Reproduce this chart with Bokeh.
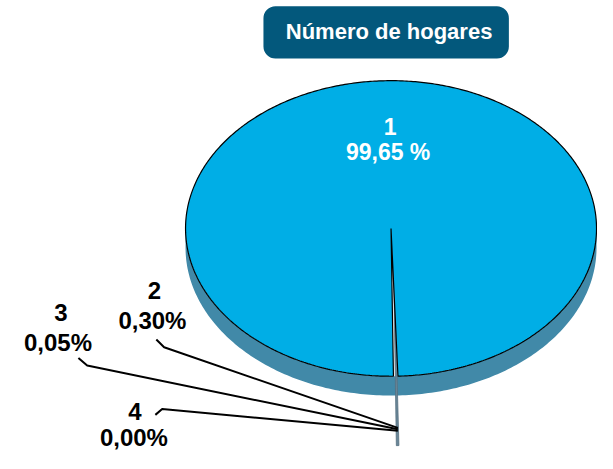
import numpy as np
from bokeh.plotting import figure
from bokeh.models import Range1d, ColumnDataSource
from bokeh.core.properties import value
from bokeh.embed import file_html
from bokeh.resources import INLINE

# ---- data ----
title_text = "Número de hogares"
categories = ["1", "2", "3", "4"]
shares = [99.65, 0.30, 0.05, 0.00]
share_labels = ["99,65 %", "0,30%", "0,05%", "0,00%"]

# ---- layout / style ----
W, H = 597, 453
p = figure(width=W, height=H, output_backend="svg", toolbar_location=None,
           x_range=Range1d(0, 613), y_range=Range1d(469, 0),
           x_axis_type=None, y_axis_type=None, min_border=0)
p.outline_line_color = None
p.grid.visible = False
p.background_fill_color = "white"
p.border_fill_color = "white"

FONT = value("Liberation Sans")
TOP = "#00AEE6"
SIDE = "#4189A8"
SLIVER = "#6A8798"
BOX = "#03587C"

cx, cy, rx, ry, depth = 401, 236, 211, 153, 20

def ell(t_deg, dy=0.0, sy=1.0):
    t = np.radians(t_deg)
    return cx + rx * np.cos(t), cy + dy + sy * ry * np.sin(t)

# angles: small slices grouped at the bottom (screen y downward, t=90 is bottom)
fr = np.array(shares) / sum(shares)
small = fr[1:].sum() * 360.0
mid = 88.7
a_start = mid + small / 2
a_end = mid - small / 2 + 360

# side band of the main slice
t1 = np.linspace(0, 180, 200)
xb, yb = ell(t1, dy=depth)
xt, yt = ell(t1[::-1])
p.patch(list(xb) + list(xt), list(yb) + list(yt), fill_color=SIDE, line_color=None)

# exploded thin sliver (slices 2-4)
ex = 1.47
sx = [cx + 2, ell(a_start, sy=ex)[0] + 3, ell(a_end - 360, sy=ex)[0] + 1]
sy_ = [cy, ell(a_start, sy=ex)[1], ell(a_end - 360, sy=ex)[1]]
p.patch(sx, sy_, fill_color=SLIVER, line_color="#557080", line_width=0.8)

# top face of main slice
tt = np.linspace(a_start, a_end, 600)
mx, my = ell(tt)
p.patch([cx] + list(mx) + [cx], [cy] + list(my) + [cy],
        fill_color=TOP, line_color="black", line_width=1.2)

# title box
p.quad(left=[270], right=[522], top=[6], bottom=[60], fill_color=BOX,
       line_color=None, border_radius=12)
p.text(x=[399], y=[32], text=[title_text], text_color="white",
       text_font=FONT, text_font_style="bold",
       text_font_size="22px", text_align="center", text_baseline="middle")

# label of slice 1
p.text(x=[400, 398], y=[130, 157], text=[categories[0], share_labels[0]],
       text_color="white", text_font=FONT,
       text_font_style="bold", text_font_size="23px",
       text_align="center", text_baseline="middle")

# leader lines for slices 2-4
conv = (408, 444)
leaders = {
    1: [(160, 351), (168, 359)],
    2: [(80, 370), (89, 378)],
    3: [(159, 429), (166, 423)],
}
for k, pts in leaders.items():
    xs = [pt[0] for pt in pts] + [conv[0]]
    ys = [pt[1] for pt in pts] + [conv[1] + (k - 2) * 1.5]
    p.line(xs, ys, line_color="black", line_width=2)

lab_x = [158, 62, 138]
num_y = [300, 323, 426]
pct_x = [156, 59, 137]
pct_y = [331, 354, 452]
src = ColumnDataSource(dict(x=lab_x + pct_x, y=num_y + pct_y,
                            t=categories[1:] + share_labels[1:]))
p.text(x="x", y="y", text="t", source=src, text_color="black",
       text_font=FONT, text_font_style="bold",
       text_font_size="24px", text_align="center", text_baseline="middle")

open("out.html", "w").write(file_html(p, INLINE))
